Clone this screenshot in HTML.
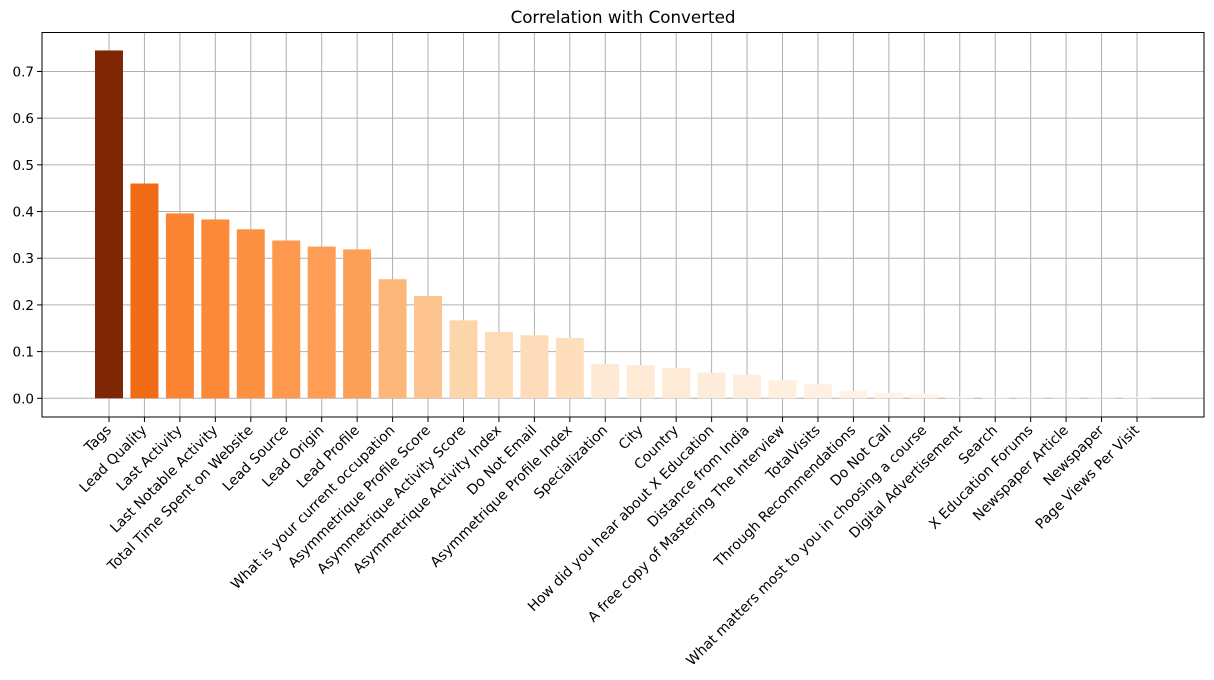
<!DOCTYPE html>
<html><head><meta charset="utf-8"><style>
body{margin:0;background:#fff;}
svg{display:block;font-family:"DejaVu Sans","Liberation Sans",sans-serif;}
</style></head><body>
<svg id="chart" width="1214" height="680" viewBox="0 0 1214 680" xmlns="http://www.w3.org/2000/svg">
<text x="623" y="23" font-size="16.7" text-anchor="middle" fill="#000">Correlation with Converted</text>
<g id="grid"></g>
<g id="bars"></g>
<g id="xaxis"></g>
<g id="yaxis"></g>
<rect x="42" y="32.5" width="1162" height="384.5" fill="none" stroke="#000" stroke-width="1"/>
</svg>
<script>
const categories = ["Tags","Lead Quality","Last Activity","Last Notable Activity","Total Time Spent on Website","Lead Source","Lead Origin","Lead Profile","What is your current occupation","Asymmetrique Profile Score","Asymmetrique Activity Score","Asymmetrique Activity Index","Do Not Email","Asymmetrique Profile Index","Specialization","City","Country","How did you hear about X Education","Distance from India","A free copy of Mastering The Interview","TotalVisits","Through Recommendations","Do Not Call","What matters most to you in choosing a course","Digital Advertisement","Search","X Education Forums","Newspaper Article","Newspaper","Page Views Per Visit"];
const values = [0.745,0.460,0.396,0.383,0.362,0.338,0.325,0.319,0.255,0.219,0.167,0.142,0.135,0.129,0.073,0.071,0.065,0.055,0.050,0.039,0.030,0.016,0.012,0.010,0.003,0.002,0.001,0.001,0.001,0.003];
const yTicks = [0.0,0.1,0.2,0.3,0.4,0.5,0.6,0.7];

const NS="http://www.w3.org/2000/svg";
const L=42,R=1204,T=32.5,B=417;
const n=categories.length;
const xmin=-1.89,xmax=(n-1)+1.89;
const x=i=>L+(i-xmin)/(xmax-xmin)*(R-L);
const y0=398.3,yPer=466.9;
const y=v=>y0-v*yPer;
const stops=[[255,245,235],[254,230,206],[253,208,162],[253,174,107],[253,141,60],[241,105,19],[217,72,1],[166,54,3],[127,39,4]];
function cmap(t){t=Math.max(0,Math.min(1,t));const p=t*8,i=Math.min(7,Math.floor(p)),f=p-i;const a=stops[i],b=stops[i+1];return `rgb(${a.map((c,k)=>Math.round(c+(b[k]-c)*f)).join(',')})`;}
function mk(tag,attrs,parent){const e=document.createElementNS(NS,tag);for(const k in attrs)e.setAttribute(k,attrs[k]);parent.appendChild(e);return e;}
const grid=document.getElementById('grid'),bars=document.getElementById('bars'),xa=document.getElementById('xaxis'),ya=document.getElementById('yaxis');
const vmax=Math.max(...values),vmin=Math.min(...values);
categories.forEach((c,i)=>{
  const cx=x(i);
  const g=mk('line',{x1:cx,x2:cx,y1:T,y2:B,stroke:'#b0b0b0','stroke-width':1},grid);
  
  
  const v=values[i],w=28;
  const r=mk('rect',{x:cx-w/2,y:Math.min(y(v),y(0)),width:w,height:Math.max(0.5,Math.abs(y(v)-y(0))),fill:cmap((v-vmin)/(vmax-vmin))},bars);
  
  
  const tk=mk('line',{x1:cx,x2:cx,y1:B,y2:B+5,stroke:'#000'},xa);
  
  
  const t=mk('text',{x:0,y:0,'font-size':14,'text-anchor':'end',transform:`translate(${cx+3},${B+14}) rotate(-45)`},xa);
  t.textContent=c;
  
  
});
yTicks.forEach(v=>{
  const yy=y(v);
  const g=mk('line',{x1:L,x2:R,y1:yy,y2:yy,stroke:'#b0b0b0','stroke-width':1},grid);
  
  
  const tk=mk('line',{x1:L-5,x2:L,y1:yy,y2:yy,stroke:'#000'},ya);
  
  
  const t=mk('text',{x:L-8,y:yy+5,'font-size':13.5,'text-anchor':'end'},ya);
  t.textContent=v.toFixed(1);
  
  
});
</script>
</body></html>
